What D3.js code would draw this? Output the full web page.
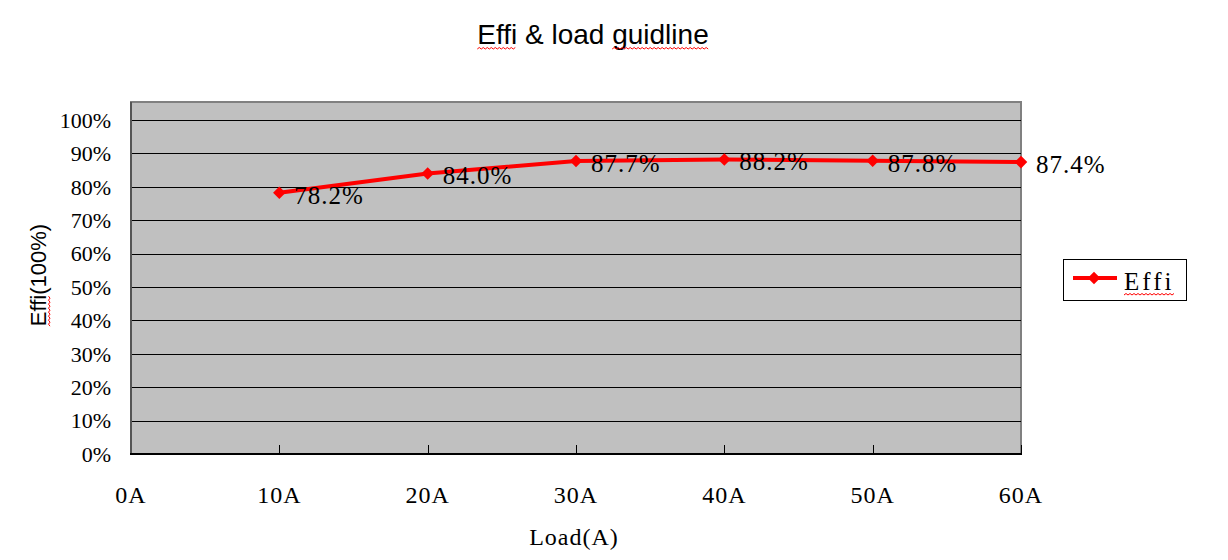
<!DOCTYPE html>
<html><head><meta charset="utf-8">
<script src="https://cdn.jsdelivr.net/npm/d3@7/dist/d3.min.js"></script>
<style>
html,body{margin:0;padding:0;background:#fff;}
svg{display:block;}
</style>
</head><body>
<svg id="chart" width="1228" height="560"></svg>
<script>
const categories = [0, 10, 20, 30, 40, 50, 60];
const xTickLabels = ["0A","10A","20A","30A","40A","50A","60A"];
const loads = [10, 20, 30, 40, 50, 60];
const effi = [78.2, 84.0, 87.7, 88.2, 87.8, 87.4];
const yTicks = [0,10,20,30,40,50,60,70,80,90,100];
const yTickLabels = ["0%","10%","20%","30%","40%","50%","60%","70%","80%","90%","100%"];
const seriesName = "Effi";
const titleText = "Effi & load guidline";
const yTitle = "Effi(100%)";
const xTitle = "Load(A)";

const svg = d3.select("#chart");
const L = 131, R = 1021, T = 102, B = 454;
const x = d3.scaleLinear().domain([0, 60]).range([L, R]);
const y = d3.scaleLinear().domain([0, 105.4]).range([B, T]);
const serif = "'Liberation Serif','DejaVu Serif',serif";
const sans = "'Liberation Sans',Arial,sans-serif";

// plot background
svg.append("rect").attr("x", L).attr("y", T).attr("width", R - L).attr("height", B - T)
  .attr("fill", "#c0c0c0").attr("stroke", "#808080").attr("stroke-width", 2);

// gridlines
svg.append("g").selectAll("line").data(yTicks.filter(d => d > 0)).join("line")
  .attr("x1", L).attr("x2", R).attr("y1", d => Math.round(y(d)) + 0.5).attr("y2", d => Math.round(y(d)) + 0.5)
  .attr("stroke", "#000").attr("stroke-width", 1);

// axes lines
svg.append("line").attr("x1", L).attr("x2", L).attr("y1", T).attr("y2", B + 1).attr("stroke", "#555").attr("stroke-width", 2);
svg.append("line").attr("x1", L - 1).attr("x2", R + 1).attr("y1", B).attr("y2", B).attr("stroke", "#000").attr("stroke-width", 2);

// x ticks (inside)
svg.append("g").selectAll("line").data(categories.filter(d => d > 0)).join("line")
  .attr("x1", d => Math.round(x(d)) + 0.5).attr("x2", d => Math.round(x(d)) + 0.5)
  .attr("y1", B).attr("y2", B - 9).attr("stroke", "#000").attr("stroke-width", 1);

// y tick labels
svg.append("g").selectAll("text").data(yTicks).join("text")
  .attr("x", 111).attr("y", d => y(d)).attr("dy", "0.35em")
  .attr("text-anchor", "end").attr("font-family", serif).attr("font-size", 22)
  .text((d, i) => yTickLabels[i]);

// x tick labels
svg.append("g").selectAll("text").data(categories).join("text")
  .attr("x", d => x(d)).attr("y", 503)
  .attr("text-anchor", "middle").attr("font-family", serif).attr("font-size", 24)
  .attr("letter-spacing", 1)
  .text((d, i) => xTickLabels[i]);

// line
const pts = loads.map((l, i) => [l, effi[i]]);
svg.append("path").datum(pts)
  .attr("d", d3.line().x(d => x(d[0])).y(d => y(d[1])))
  .attr("fill", "none").attr("stroke", "#ff0000").attr("stroke-width", 4).attr("stroke-linejoin", "round");

const diamond = d3.symbol().type(d3.symbolDiamond2).size(100);
svg.append("g").selectAll("path").data(pts).join("path")
  .attr("transform", d => `translate(${x(d[0])},${y(d[1])})`)
  .attr("d", diamond).attr("fill", "#ff0000");

// data labels
svg.append("g").selectAll("text").data(pts).join("text")
  .attr("x", d => x(d[0]) + 15).attr("y", d => y(d[1]) + 2).attr("dy", "0.35em")
  .attr("font-family", serif).attr("font-size", 25).attr("letter-spacing", 1)
  .text(d => d[1].toFixed(1) + "%");

// title
const title = svg.append("text").attr("x", 593).attr("y", 44).attr("text-anchor", "middle")
  .attr("font-family", sans).attr("font-size", 28).text(titleText);

// y axis title
const yt = svg.append("text").attr("transform", "translate(46,275) rotate(-90)").attr("text-anchor", "middle")
  .attr("font-family", sans).attr("font-size", 22).text(yTitle);

// x axis title
svg.append("text").attr("x", 574).attr("y", 545).attr("text-anchor", "middle")
  .attr("font-family", serif).attr("font-size", 24).attr("letter-spacing", 1).text(xTitle);

// legend
svg.append("rect").attr("x", 1063.5).attr("y", 259.5).attr("width", 123).attr("height", 41)
  .attr("fill", "#fff").attr("stroke", "#000").attr("stroke-width", 1);
svg.append("line").attr("x1", 1073).attr("x2", 1117).attr("y1", 278).attr("y2", 278)
  .attr("stroke", "#ff0000").attr("stroke-width", 4);
svg.append("path").attr("transform", "translate(1094,278)").attr("d", diamond).attr("fill", "#ff0000");
const lt = svg.append("text").attr("x", 1124).attr("y", 290).attr("font-family", serif).attr("font-size", 25)
  .attr("letter-spacing", 3).text(seriesName);

// spell-check squiggles
function squiggle(x0, x1, yy) {
  let d = `M${x0},${yy}`;
  let up = true;
  for (let xx = x0 + 2; xx <= x1; xx += 2) { d += `L${xx},${yy + (up ? -1.5 : 0)}`; up = !up; }
  return d;
}
const tn = title.node();
const tStart = tn.getStartPositionOfChar(0).x;
const effiEnd = tn.getEndPositionOfChar(3).x;
const gStart = tn.getStartPositionOfChar(12).x;
const gEnd = tn.getEndPositionOfChar(titleText.length - 1).x;
svg.append("path").attr("d", squiggle(tStart, effiEnd, 49)).attr("fill", "none").attr("stroke", "#ff0000").attr("stroke-width", 1);
svg.append("path").attr("d", squiggle(gStart, gEnd, 49)).attr("fill", "none").attr("stroke", "#ff0000").attr("stroke-width", 1);
const ltEnd = lt.node().getEndPositionOfChar(3).x;
svg.append("path").attr("d", squiggle(1124, ltEnd, 295)).attr("fill", "none").attr("stroke", "#ff0000").attr("stroke-width", 1);
const yn = yt.node();
const ys = yn.getStartPositionOfChar(0).x, ye = yn.getEndPositionOfChar(3).x;
// in rotated frame: text runs along local x; squiggle just below baseline
svg.append("path").attr("transform", "translate(46,275) rotate(-90)")
  .attr("d", squiggle(ys, ye, 4)).attr("fill", "none").attr("stroke", "#ff0000").attr("stroke-width", 1);
</script>
</body></html>
